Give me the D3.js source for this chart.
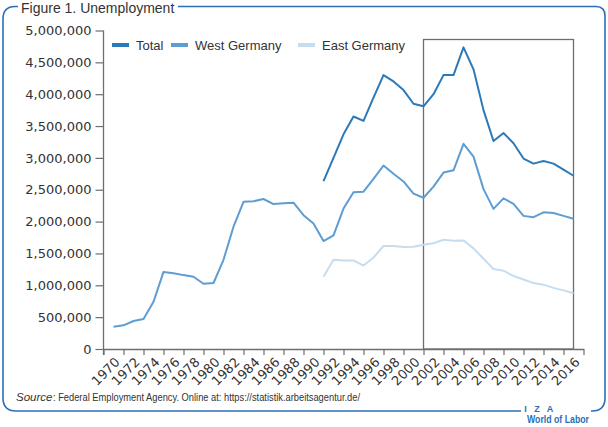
<!DOCTYPE html>
<html><head><meta charset="utf-8">
<script src="https://cdn.jsdelivr.net/npm/d3@7"></script>
<style>
body{margin:0;background:#fff;}
svg{display:block;}
</style></head>
<body>
<svg id="c" width="608" height="427"></svg>
<script>
const westYears = d3.range(1970, 2017);
const westValues = [350000,372000,440000,470000,740000,1210000,1190000,1160000,1135000,1025000,1036000,1400000,1920000,2310000,2320000,2355000,2276000,2287000,2297000,2100000,1970000,1695000,1785000,2205000,2460000,2470000,2670000,2880000,2750000,2630000,2440000,2375000,2550000,2770000,2805000,3220000,3020000,2510000,2200000,2365000,2280000,2090000,2070000,2145000,2135000,2090000,2045000];
const eastYears = d3.range(1991, 2017);
const totalValues = [2637000,3000000,3370000,3650000,3580000,3945000,4300000,4200000,4065000,3850000,3810000,4000000,4300000,4300000,4735000,4390000,3750000,3265000,3390000,3230000,2990000,2910000,2950000,2910000,2815000,2720000];
const eastValues = [1135000,1400000,1390000,1390000,1310000,1435000,1617000,1617000,1600000,1605000,1637000,1660000,1715000,1700000,1705000,1580000,1417000,1255000,1230000,1145000,1090000,1035000,1010000,960000,920000,875000];
const yTicks = [0,500000,1000000,1500000,2000000,2500000,3000000,3500000,4000000,4500000,5000000];
const xLabelYears = d3.range(1970, 2017, 2);
const xTickYears = d3.range(1969, 2018, 2);
const seriesNames = ["Total","West Germany","East Germany"];
const highlightYears = [2001, 2016];
const titleText = "Figure 1. Unemployment";

const colors = {"Total":"#2c79ba","West Germany":"#5e9dd3","East Germany":"#c6ddf0"};
const svg = d3.select("#c");
const x = d3.scaleLinear().domain([1969, 2017]).range([103.5, 583.5]);
const y = d3.scaleLinear().domain([0, 5000000]).range([349, 30.5]);
const axisColor = "#6e6e6e";

// frame
const blue = "#2a6fb7";
svg.append("path")
  .attr("d", "M18,6.5 L15,6.5 Q3,6.5 3,19 L3,398 Q3,411 16,411 L521,411")
  .attr("fill","none").attr("stroke",blue).attr("stroke-width",1.6);
svg.append("path")
  .attr("d", "M178,6.5 L596,6.5 Q605,6.5 605,16 L605,398 Q605,411 592,411 L591,411")
  .attr("fill","none").attr("stroke",blue).attr("stroke-width",1.6);
svg.append("text").attr("x",21).attr("y",12.5)
  .attr("font-family","Liberation Sans, Arial, sans-serif").attr("font-size",14)
  .attr("fill","#333").text(titleText);

// highlight box
svg.append("rect")
  .attr("x", x(highlightYears[0])).attr("y", 39.5)
  .attr("width", x(highlightYears[1]) - x(highlightYears[0]))
  .attr("height", y(0) - 39.5)
  .attr("fill","none").attr("stroke",axisColor).attr("stroke-width",1.3);

// y axis
const ya = svg.append("g").attr("transform",`translate(${x(1969)},0)`)
  .call(d3.axisLeft(y).tickValues(yTicks).tickFormat(d3.format(",")).tickSize(8).tickSizeOuter(0));
ya.select(".domain").remove();
ya.selectAll(".tick line").attr("stroke",axisColor).attr("stroke-width",1.2);
ya.selectAll(".tick text").attr("font-family","DejaVu Sans, sans-serif").attr("font-size",13)
  .attr("fill","#333").attr("x",-12);
svg.append("line").attr("x1",x(1969)).attr("x2",x(1969)).attr("y1",y(5000000)).attr("y2",y(0)+6)
  .attr("stroke",axisColor).attr("stroke-width",1.3);

// x axis
const xa = svg.append("g").attr("transform",`translate(0,${y(0)})`)
  .call(d3.axisBottom(x).tickValues(xTickYears).tickFormat("").tickSize(6).tickSizeOuter(0));
xa.select(".domain").attr("stroke",axisColor).attr("stroke-width",1.3);
xa.selectAll(".tick line").attr("stroke",axisColor).attr("stroke-width",1.2);
svg.append("g").selectAll("text").data(xLabelYears).join("text")
  .attr("transform", d => `translate(${x(d)+7},${y(0)+14}) rotate(-45)`)
  .attr("text-anchor","end")
  .attr("font-family","DejaVu Sans, sans-serif").attr("font-size",13).attr("fill","#333")
  .text(d => d);

// lines
const line = d3.line().x(d => x(d[0])).y(d => y(d[1]));
const series = [
  {name:"East Germany", pts: eastYears.map((yr,i)=>[yr,eastValues[i]])},
  {name:"West Germany", pts: westYears.map((yr,i)=>[yr,westValues[i]])},
  {name:"Total", pts: eastYears.map((yr,i)=>[yr,totalValues[i]])}
];
svg.append("g").selectAll("path").data(series).join("path")
  .attr("d", d => line(d.pts)).attr("fill","none")
  .attr("stroke", d => colors[d.name]).attr("stroke-width",2).attr("stroke-linejoin","round");

// legend
const legX = [112, 171, 298];
const lg = svg.append("g").selectAll("g").data(seriesNames).join("g")
  .attr("transform",(d,i)=>`translate(${legX[i]},45)`);
lg.append("line").attr("x1",0).attr("x2",17).attr("y1",0).attr("y2",0)
  .attr("stroke",d=>colors[d]).attr("stroke-width",4);
lg.append("text").attr("x",24).attr("y",5)
  .attr("font-family","Liberation Sans, Arial, sans-serif").attr("font-size",13).attr("fill","#333")
  .text(d=>d);

// source
svg.append("text").attr("x",16).attr("y",401)
  .attr("font-family","Liberation Sans, Arial, sans-serif").attr("font-size",11.5).attr("fill","#333")
  .attr("font-style","italic").text("Source");
svg.append("text").attr("x",53).attr("y",401)
  .attr("font-family","Liberation Sans, Arial, sans-serif").attr("font-size",11.5).attr("fill","#333")
  .attr("textLength",307).attr("lengthAdjust","spacingAndGlyphs")
  .text(": Federal Employment Agency. Online at: https://statistik.arbeitsagentur.de/");

// logo
svg.append("text").attr("x",540).attr("y",412).attr("text-anchor","middle")
  .attr("font-family","Liberation Sans, Arial, sans-serif").attr("font-size",9).attr("font-weight","bold")
  .attr("fill",blue).attr("letter-spacing",2.5).text("I Z A");
svg.append("text").attr("x",527).attr("y",423)
  .attr("font-family","Liberation Sans, Arial, sans-serif").attr("font-size",10.5).attr("font-weight","bold")
  .attr("fill",blue).attr("textLength",62).attr("lengthAdjust","spacingAndGlyphs").text("World of Labor");
</script>
</body></html>
